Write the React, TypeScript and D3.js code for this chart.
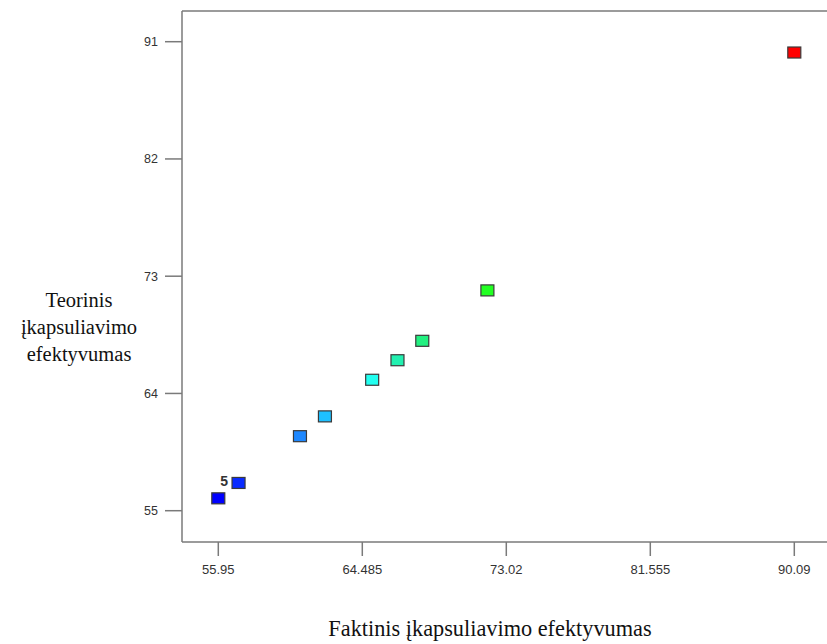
import React from "react";
import * as d3 from "d3";

// Actual vs predicted encapsulation efficiency
const actual = [55.95, 57.15, 60.79, 62.27, 65.07, 66.57, 68.04, 71.9, 90.09];
const predicted = [55.95, 57.13, 60.72, 62.24, 65.05, 66.55, 68.04, 71.91, 90.17];
const pointColors = [
  "#0000ff", "#0a2bff", "#1e88ff", "#1ec0ff", "#22fff0",
  "#22f0b0", "#22f080", "#22ff22", "#ff0000",
];
const pointLabels = ["", "5", "", "", "", "", "", "", ""];
const xTicks = [55.95, 64.485, 73.02, 81.555, 90.09];
const xTickLabels = ["55.95", "64.485", "73.02", "81.555", "90.09"];
const yTicks = [55, 64, 73, 82, 91];

const W = 827;
const H = 644;

export default function App() {
  const left = 182;
  const top = 11;
  const bottom = 542;
  // x scale anchored to tick positions; the plot frame runs off the right edge
  const x = d3.scaleLinear().domain([55.95, 90.09]).range([218.3, 794.3]);
  const y = d3.scaleLinear().domain([55, 91]).range([510.7, 41.7]);
  const axisColor = "#7a7a7a";
  const tickFont = "Arial, 'Liberation Sans', sans-serif";
  const titleFont = "'Times New Roman', 'Liberation Serif', serif";

  return (
    <svg
      width={W}
      height={H}
      style={{ position: "absolute", left: 0, top: 0, background: "#fff" }}
    >
      {/* plot frame */}
      <line x1={left} x2={left} y1={top} y2={bottom} stroke={axisColor} strokeWidth={1.5} />
      <line x1={left} x2={W + 5} y1={top} y2={top} stroke={axisColor} strokeWidth={1.5} />
      <line x1={left} x2={W + 5} y1={bottom} y2={bottom} stroke={axisColor} strokeWidth={1.5} />

      {/* y ticks */}
      {yTicks.map((t) => (
        <g key={"y" + t}>
          <line x1={left - 17} x2={left} y1={y(t)} y2={y(t)} stroke={axisColor} strokeWidth={1.5} />
          <text
            x={left - 24}
            y={y(t)}
            dy="0.35em"
            textAnchor="end"
            fontFamily={tickFont}
            fontSize={12.5}
            fill="#333"
          >
            {t}
          </text>
        </g>
      ))}

      {/* x ticks */}
      {xTicks.map((t, i) => (
        <g key={"x" + t}>
          <line x1={x(t)} x2={x(t)} y1={bottom} y2={bottom + 14} stroke={axisColor} strokeWidth={1.5} />
          <text
            x={x(t)}
            y={bottom + 32}
            textAnchor="middle"
            fontFamily={tickFont}
            fontSize={13}
            fill="#333"
          >
            {xTickLabels[i]}
          </text>
        </g>
      ))}

      {/* points */}
      {actual.map((a, i) => (
        <g key={"p" + i}>
          <rect
            x={x(a) - 6.5}
            y={y(predicted[i]) - 5.5}
            width={13}
            height={11}
            fill={pointColors[i]}
            stroke="#3a3a3a"
            strokeWidth={1.2}
          />
          {pointLabels[i] && (
            <text
              x={x(a) - 10.5}
              y={y(predicted[i]) + 3}
              textAnchor="end"
              fontFamily={tickFont}
              fontSize={14}
              fontWeight="bold"
              fill="#333"
            >
              {pointLabels[i]}
            </text>
          )}
        </g>
      ))}

      {/* axis titles */}
      <text
        x={490}
        y={636}
        textAnchor="middle"
        fontFamily={titleFont}
        fontSize={22.3}
        fill="#111"
      >
        Faktinis įkapsuliavimo efektyvumas
      </text>
      <text textAnchor="middle" fontFamily={titleFont} fontSize={20.5} fill="#111">
        <tspan x={79} y={307}>Teorinis</tspan>
        <tspan x={79} y={334}>įkapsuliavimo</tspan>
        <tspan x={79} y={361}>efektyvumas</tspan>
      </text>
    </svg>
  );
}
